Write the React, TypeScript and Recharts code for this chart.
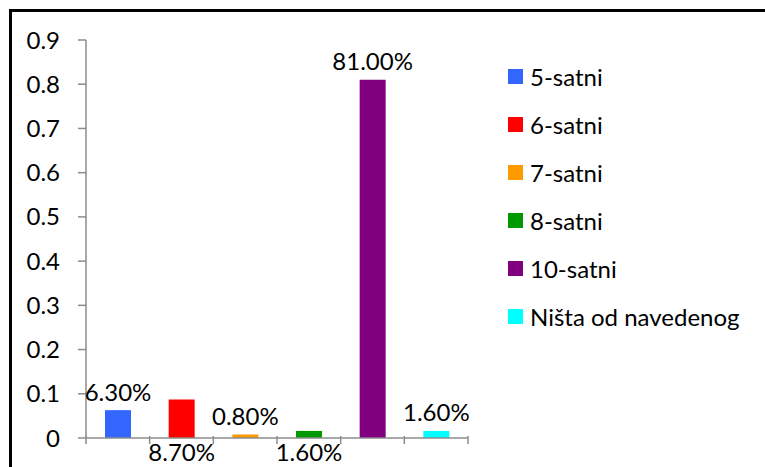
import { BarChart, Bar, XAxis, YAxis, Cell, LabelList } from 'recharts';

const categories = ['5-satni', '6-satni', '7-satni', '8-satni', '10-satni', 'Ništa od navedenog'];
const shares = [0.063, 0.087, 0.008, 0.016, 0.81, 0.016];
const colors = ['#3366FF', '#FF0000', '#FF9900', '#009900', '#800080', '#00FFFF'];
const labelSide = ['above', 'below', 'above', 'below', 'above', 'above'];
const yTicks = [0, 0.1, 0.2, 0.3, 0.4, 0.5, 0.6, 0.7, 0.8, 0.9];

const FONT = 'Lato, "DejaVu Sans", sans-serif';
const FS = 24;
const AXIS = '#8c8c8c';

const W = 765;
const H = 467;
const margin = { top: 40, right: 297, left: 10, bottom: 0 };
const yAxisWidth = 76;
// width of one category slot, from the plot width
const band = (W - margin.left - margin.right - yAxisWidth) / categories.length;

const data = categories.map((name, i) => ({ name, value: shares[i] }));

function BarLabel(props: any) {
  const { x, y, width, height, value, index } = props;
  const cx = Number(x) + Number(width) / 2;
  const below = labelSide[index] === 'below';
  const ty = below ? Number(y) + Number(height) + 13 : Number(y) - 19;
  return (
    <text x={cx} y={ty} textAnchor="middle" dominantBaseline="central" fontSize={FS} fontFamily={FONT} fill="#000">
      {(Number(value) * 100).toFixed(2)}%
    </text>
  );
}

// excel style ticks: between categories instead of under them
function EdgeTick(props: any) {
  const { x, y, index } = props;
  const left = Number(x) - band / 2;
  const top = Number(y) - 8;
  return (
    <g>
      <line x1={left} x2={left} y1={top} y2={top + 8} stroke={AXIS} strokeWidth={1.5} />
      {index === categories.length - 1 && (
        <line x1={left + band} x2={left + band} y1={top} y2={top + 8} stroke={AXIS} strokeWidth={1.5} />
      )}
    </g>
  );
}

function SideLegend() {
  return (
    <div style={{ position: 'absolute', left: 508, top: 52, fontFamily: FONT, fontSize: FS, color: '#000' }}>
      {categories.map((c, i) => (
        <div key={c} style={{ display: 'flex', alignItems: 'center', height: 48, whiteSpace: 'nowrap' }}>
          <span style={{ width: 15, height: 15, background: colors[i], marginRight: 7, display: 'inline-block' }} />
          <span>{c}</span>
        </div>
      ))}
    </div>
  );
}

export default function App() {
  return (
    <div style={{ position: 'absolute', left: 0, top: 0, width: W, height: H, overflow: 'hidden', background: '#fff' }}>
      <div
        style={{
          position: 'absolute',
          left: 9,
          top: 9,
          width: 800,
          height: 500,
          borderTop: '3px solid #000',
          borderLeft: '3px solid #000',
        }}
      />
      <div style={{ position: 'absolute', left: 0, top: 0 }}>
        <BarChart width={W} height={H} data={data} margin={margin}>
          <XAxis
            dataKey="name"
            height={29}
            interval={0}
            tickLine={false}
            tickMargin={0}
            tick={<EdgeTick />}
            axisLine={{ stroke: AXIS, strokeWidth: 1.5 }}
          />
          <YAxis
            domain={[0, 0.9]}
            ticks={yTicks}
            width={yAxisWidth}
            tickSize={8}
            tickMargin={18}
            interval={0}
            tickFormatter={(v: number) => (v === 0 ? '0' : String(v))}
            tick={{ fill: '#000', fontSize: FS, fontFamily: FONT }}
            axisLine={{ stroke: AXIS, strokeWidth: 1.5 }}
            tickLine={{ stroke: AXIS, strokeWidth: 1.5 }}
          />
          <Bar dataKey="value" barSize={26} isAnimationActive={false}>
            {data.map((d, i) => (
              <Cell key={d.name} fill={colors[i]} />
            ))}
            <LabelList dataKey="value" content={<BarLabel />} />
          </Bar>
        </BarChart>
      </div>
      <SideLegend />
    </div>
  );
}
